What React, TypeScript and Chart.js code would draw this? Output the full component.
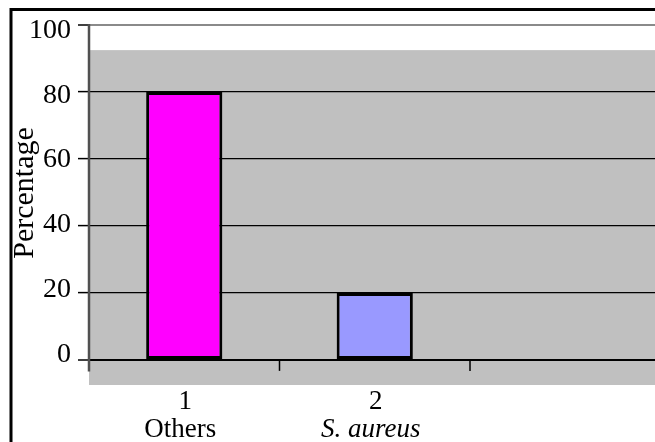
import { useEffect, useRef } from "react";
import { Chart, registerables } from "chart.js";

Chart.register(...registerables);

const CATEGORY_NUMBERS = ["1", "2", "3"];
const CATEGORY_NAMES = ["Others", "S. aureus", ""];
const CATEGORY_ITALIC = [false, true, false];
const SHOW_NUMBER = [true, true, false];
const PERCENTAGES: (number | null)[] = [80, 20, null];
const BAR_COLORS = ["#FF00FF", "#9999FF", "#FFFFFF"];
const Y_TICKS = [0, 20, 40, 60, 80, 100];
const Y_TITLE = "Percentage";

const Y_MIN = -7.5;
const Y_MAX = 100;
const SHADE_TOP = 92.5;
const Y_AXIS_BOTTOM = -3.5;
const LABEL_SPREAD = 0.967;
const SERIF = "'Liberation Serif', 'Times New Roman', serif";

const decorPlugin = {
  id: "decor",
  beforeDraw(chart: any) {
    const { ctx, chartArea, scales } = chart;
    const y = scales.y;
    ctx.save();
    ctx.fillStyle = "#C0C0C0";
    const top = y.getPixelForValue(SHADE_TOP);
    ctx.fillRect(chartArea.left, top, chartArea.right - chartArea.left, chartArea.bottom - top);
    ctx.restore();
  },
  afterDraw(chart: any) {
    const { ctx, chartArea, scales } = chart;
    const x = scales.x;
    const y = scales.y;
    const y0 = y.getPixelForValue(0);
    ctx.save();
    // y axis line
    ctx.strokeStyle = "#505050";
    ctx.lineWidth = 2.5;
    ctx.beginPath();
    ctx.moveTo(chartArea.left, y.getPixelForValue(Y_MAX) - 1);
    ctx.lineTo(chartArea.left, y.getPixelForValue(Y_AXIS_BOTTOM));
    ctx.stroke();
    // category boundary ticks
    ctx.strokeStyle = "#000";
    ctx.lineWidth = 1.5;
    for (let i = 1; i < CATEGORY_NUMBERS.length; i++) {
      const bx = (x.getPixelForValue(i - 1) + x.getPixelForValue(i)) / 2;
      ctx.beginPath();
      ctx.moveTo(bx, y0);
      ctx.lineTo(bx, y0 + 11);
      ctx.stroke();
    }
    // y tick labels
    ctx.fillStyle = "#000";
    ctx.font = `28px ${SERIF}`;
    ctx.textAlign = "right";
    ctx.textBaseline = "middle";
    const mid = y.getPixelForValue((Y_TICKS[0] + Y_TICKS[Y_TICKS.length - 1]) / 2);
    for (const t of y.ticks) {
      const ty = y.getPixelForValue(t.value);
      ctx.fillText(String(t.value), 71, mid + (ty - mid) * LABEL_SPREAD);
    }
    // x labels
    ctx.textAlign = "center";
    for (let i = 0; i < CATEGORY_NUMBERS.length; i++) {
      const cx = x.getPixelForValue(i);
      if (SHOW_NUMBER[i]) {
        ctx.font = `27px ${SERIF}`;
        ctx.fillText(CATEGORY_NUMBERS[i], cx + 1, 402);
      }
      if (CATEGORY_NAMES[i]) {
        ctx.font = `${CATEGORY_ITALIC[i] ? "italic " : ""}27px ${SERIF}`;
        ctx.fillText(CATEGORY_NAMES[i], cx - 4, 430);
      }
    }
    // y title
    ctx.save();
    ctx.translate(33, 193);
    ctx.rotate(-Math.PI / 2);
    ctx.font = `30px ${SERIF}`;
    ctx.textAlign = "center";
    ctx.textBaseline = "alphabetic";
    ctx.fillText(Y_TITLE, 0, 0);
    ctx.restore();
    // outer frame
    ctx.strokeStyle = "#000";
    ctx.lineWidth = 3;
    ctx.strokeRect(11, 9.5, 760, 520);
    ctx.restore();
  },
};

export default function App() {
  const ref = useRef<HTMLCanvasElement | null>(null);
  useEffect(() => {
    if (!ref.current) return;
    const chart = new Chart(ref.current, {
      type: "bar",
      data: {
        labels: CATEGORY_NUMBERS,
        datasets: [
          {
            data: PERCENTAGES as any,
            backgroundColor: BAR_COLORS,
            borderColor: "#000",
            borderWidth: 3,
            borderSkipped: false,
            barPercentage: 0.4,
            categoryPercentage: 1,
          },
        ],
      },
      options: {
        animation: false,
        responsive: false,
        maintainAspectRatio: false,
        layout: { padding: { left: 0, top: 25, right: 19.5, bottom: 57 } },
        plugins: { legend: { display: false }, tooltip: { enabled: false } },
        scales: {
          x: { display: false, offset: true },
          y: {
            min: Y_MIN,
            max: Y_MAX,
            afterBuildTicks: (scale: any) => {
              scale.ticks = Y_TICKS.map((v) => ({ value: v }));
            },
            afterFit: (scale: any) => {
              scale.width = 89;
            },
            ticks: { display: false },
            border: { display: false },
            grid: {
              drawTicks: true,
              tickLength: 11,
              tickColor: "#000",
              tickWidth: 1.5,
              color: (c: any) => (c.tick && c.tick.value === 100 ? "#8a8a8a" : "#000"),
              lineWidth: (c: any) =>
                c.tick && (c.tick.value === 100 || c.tick.value === 0) ? 2 : 1.2,
            },
          },
        },
      },
      plugins: [decorPlugin],
    });
    return () => chart.destroy();
  }, []);
  return (
    <div style={{ position: "fixed", left: 0, top: 0, width: 655, height: 442, overflow: "hidden", background: "#fff" }}>
      <canvas ref={ref} width={680} height={442} style={{ display: "block", width: 680, height: 442 }} />
    </div>
  );
}
